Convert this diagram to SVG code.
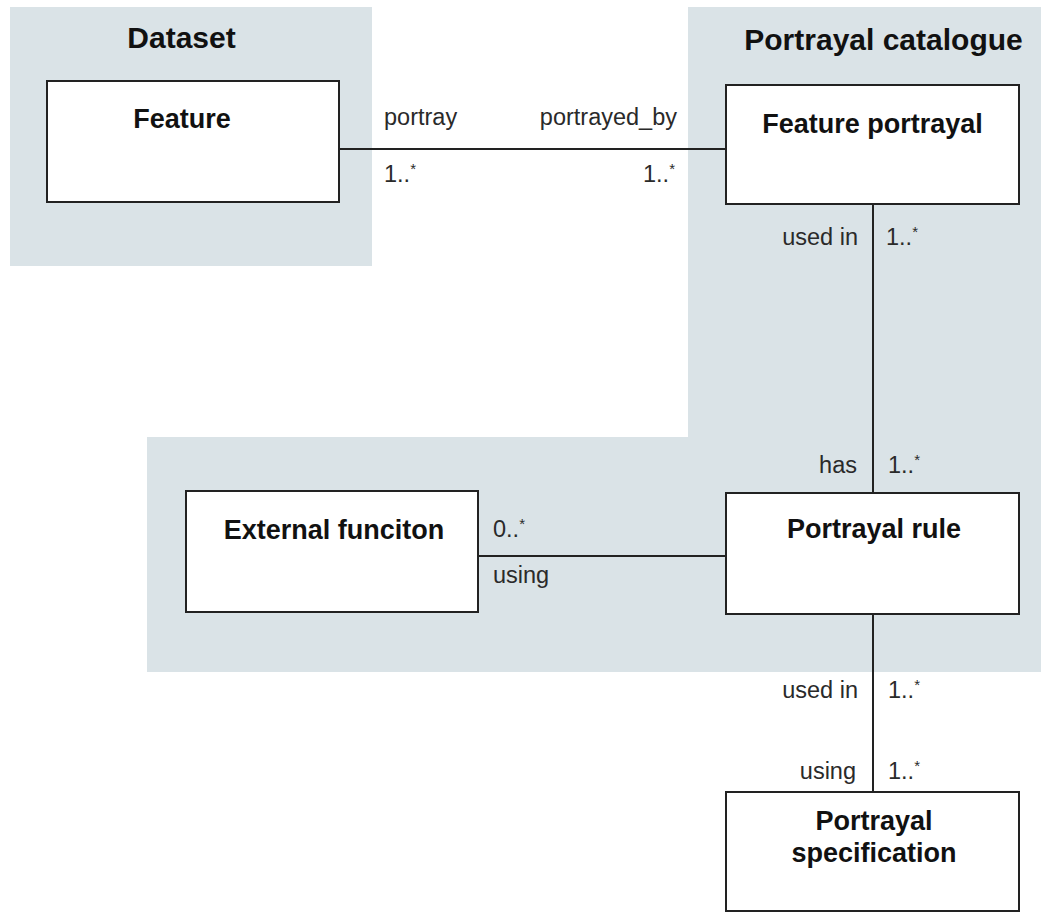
<svg xmlns="http://www.w3.org/2000/svg" width="1041" height="913" viewBox="0 0 1041 913">
<style>
.bg{fill:#dae3e7;stroke:none}
.box{fill:#ffffff;stroke:#222;stroke-width:2}
.title{font-family:"Liberation Sans",Arial,sans-serif;font-weight:bold;font-size:30px;fill:#111}
.name{font-family:"Liberation Sans",Arial,sans-serif;font-weight:bold;font-size:27px;fill:#111;text-anchor:middle}
.lbl{font-family:"Liberation Sans",Arial,sans-serif;font-size:23.5px;fill:#2a2a2a}
.end{text-anchor:end}
.st{font-size:15px}
.conn{stroke:#222;stroke-width:2;fill:none}
</style>
<rect width="1041" height="913" fill="#ffffff"/>
<g id="region-dataset">
<rect class="bg" x="10" y="7" width="362" height="259"/>
<text class="title" x="181.5" y="48" text-anchor="middle">Dataset</text>
</g>
<g id="region-catalogue">
<path class="bg" d="M688,7 H1041 V672 H147 V437 H688 Z"/>
<text class="title" x="883.5" y="50" text-anchor="middle">Portrayal catalogue</text>
</g>
<g id="connectors">
<line class="conn" x1="339" y1="149" x2="726" y2="149"/>
<line class="conn" x1="873" y1="204" x2="873" y2="493"/>
<line class="conn" x1="478" y1="556" x2="726" y2="556"/>
<line class="conn" x1="873" y1="614" x2="873" y2="792"/>
<text class="lbl" x="384" y="125">portray</text>
<text class="lbl end" x="677" y="125">portrayed_by</text>
<text class="lbl" x="384" y="182">1..<tspan class="st" dy="-8">*</tspan></text>
<text class="lbl end" x="675" y="182">1..<tspan class="st" dy="-8">*</tspan></text>
<text class="lbl end" x="858" y="245">used in</text>
<text class="lbl" x="886" y="245">1..<tspan class="st" dy="-8">*</tspan></text>
<text class="lbl end" x="857" y="473">has</text>
<text class="lbl" x="888" y="473">1..<tspan class="st" dy="-8">*</tspan></text>
<text class="lbl" x="493" y="537">0..<tspan class="st" dy="-8">*</tspan></text>
<text class="lbl" x="493" y="583">using</text>
<text class="lbl end" x="858" y="698">used in</text>
<text class="lbl" x="888" y="698">1..<tspan class="st" dy="-8">*</tspan></text>
<text class="lbl end" x="856" y="779">using</text>
<text class="lbl" x="888" y="779">1..<tspan class="st" dy="-8">*</tspan></text>
</g>
<g id="node-feature">
<rect class="box" x="47" y="81" width="292" height="121"/>
<text class="name" x="182" y="128">Feature</text>
</g>
<g id="node-feature-portrayal">
<rect class="box" x="726" y="85" width="293" height="119"/>
<text class="name" x="872.5" y="133">Feature portrayal</text>
</g>
<g id="node-external-function">
<rect class="box" x="186" y="491" width="292" height="121"/>
<text class="name" x="334" y="539">External funciton</text>
</g>
<g id="node-portrayal-rule">
<rect class="box" x="726" y="493" width="293" height="121"/>
<text class="name" x="874" y="538">Portrayal rule</text>
</g>
<g id="node-portrayal-specification">
<rect class="box" x="726" y="792" width="293" height="119"/>
<text class="name" x="874" y="830">Portrayal</text>
<text class="name" x="874" y="862">specification</text>
</g>
</svg>
